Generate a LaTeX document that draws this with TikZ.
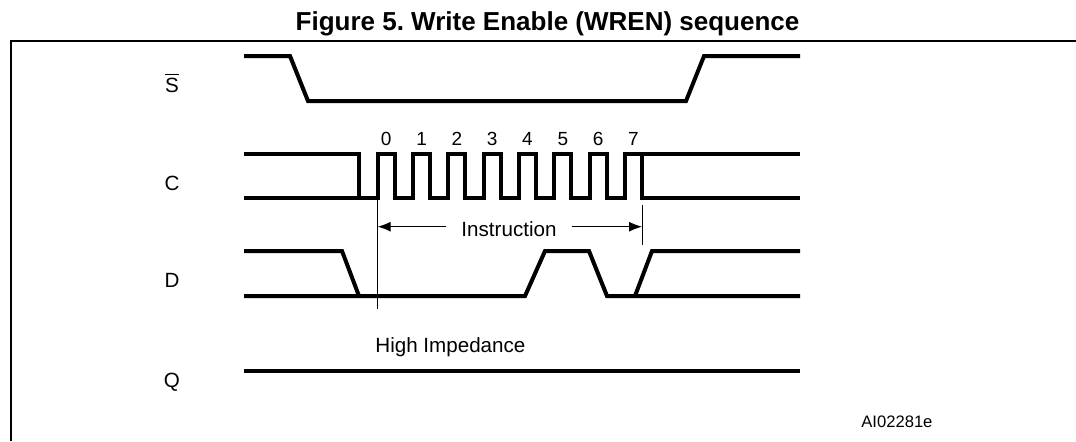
\documentclass[tikz,border=0pt]{standalone}
\usepackage{fontspec}
\setmainfont{Liberation Sans}
\usetikzlibrary{arrows.meta,positioning,calc}
\frenchspacing
\begin{document}
\begin{tikzpicture}[
x=0.5pt, y=-0.5pt,
wave/.style={
  line width=2pt
  },
marker/.style={
  line width=0.5pt
  },
lbl/.style={
  font=\fontsize{10.3}{12}\selectfont,
  inner sep=0pt,
  anchor=base
  },
>={Latex[length=6.5pt,width=5pt]}
]
\useasboundingbox (0,0) rectangle (1076,441);
% frame and title
\draw[line width=1pt] (10.7,441) -- (10.7,41) -- (1076,41);
\node[lbl, font=\bfseries\fontsize{13}{15}\selectfont] (title) at (547.5,30.5) {Figure 5. Write Enable (WREN) sequence};
% signal names
\node[lbl] (lblS) at (172,92) {$\overline{\hbox{S}}$};
\node[lbl] (lblC) at (172,190.5) {C};
\node[lbl] (lblD) at (172,287.5) {D};
\node[lbl] (lblQ) at (172,387) {Q};
% chip select
\draw[wave] (244,56) -- (290,56) -- (308,101) -- (686,101) -- (704,56) -- (800,56);
% clock
\draw[wave] (244,154) -- (359.3,154) -- (359.3,198);
\draw[wave] (244,198) foreach \k in {0,...,7} {
  -- ({377.7+35.33*\k},198) -- ({377.7+35.33*\k},154)
  -- ({394.7+35.33*\k},154) -- ({394.7+35.33*\k},198)} -- (800,198);
\draw[wave] (642,154) -- (800,154);
\foreach \k in {0,...,7}
  \node[lbl, font=\fontsize{9.5}{11}\selectfont] (bit\k) at ({386.2+35.33*\k},145.5) {\k};
% instruction span
\coordinate (m0top) at (377.7,198);
\coordinate (m0bot) at (377.7,309);
\coordinate (m7top) at (642,205);
\coordinate (m7bot) at (642,245);
\draw[marker] (m0top) -- (m0bot);
\draw[marker] (m7top) -- (m7bot);
\node[lbl] (instr) at (509,236.5) {Instruction};
\coordinate (aL) at (446,226.7);
\coordinate (aR) at (571.7,226.7);
\draw[marker,->] (aL) -- (aL -| m0top);
\draw[marker,->] (aR) -- (aR -| m7top);
% data in
\draw[wave] (244,251) -- (342,251) -- (359,296);
\draw[wave] (244,296) -- (525,296) -- (545,251) -- (589,251) -- (607,296) -- (800,296);
\draw[wave] (635,296) -- (652,251) -- (800,251);
% data out
\draw[wave] (244,370.7) -- (800,370.7);
\node[lbl, anchor=base west] (hiz) at (375,352) {High Impedance};
\node[lbl, font=\fontsize{8.3}{10}\selectfont, anchor=base west] (ref) at (861,427) {AI02281e};
\end{tikzpicture}
\end{document}
